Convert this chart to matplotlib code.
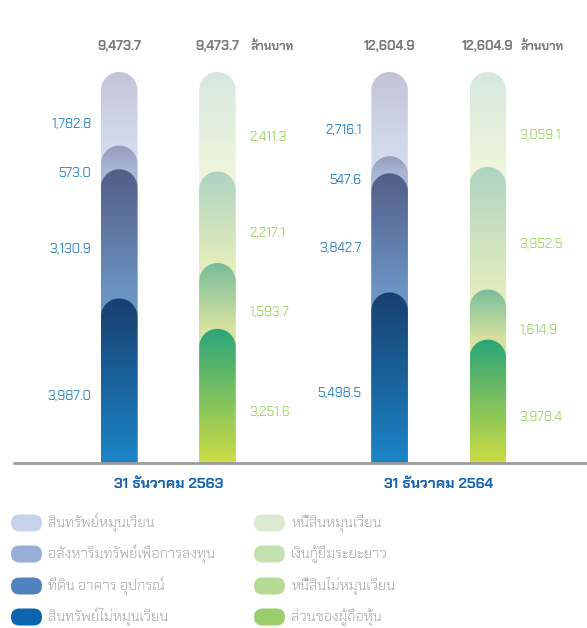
import numpy as np
import matplotlib
matplotlib.use("Agg")
import matplotlib.pyplot as plt
from matplotlib.patches import PathPatch, FancyBboxPatch
from matplotlib.path import Path
from matplotlib.colors import to_rgb

plt.rcParams["font.family"] = ["Chakra Petch", "DejaVu Sans"]

groups = ["31 ธันวาคม 2563", "31 ธันวาคม 2564"]
totals = [9473.7, 12604.9]
unit = "ล้านบาท"

# segments listed bottom -> top
asset_names = ["สินทรัพย์ไม่หมุนเวียน", "ที่ดิน อาคาร อุปกรณ์",
               "อสังหาริมทรัพย์เพื่อการลงทุน", "สินทรัพย์หมุนเวียน"]
assets_2563 = [3987.0, 3130.9, 573.0, 1782.8]
assets_2564 = [5498.5, 3842.7, 547.6, 2716.1]

liab_names = ["ส่วนของผู้ถือหุ้น", "หนี้สินไม่หมุนเวียน",
              "เงินกู้ยืมระยะยาว", "หนี้สินหมุนเวียน"]
liab_2563 = [3251.6, 1593.7, 2217.1, 2411.3]
liab_2564 = [3978.4, 1614.9, 3952.5, 3059.1]

# (top colour, bottom colour) per segment, bottom -> top
asset_grad = [("#183F6F", "#1C85C7"), ("#535E86", "#6C95C6"),
              ("#989BB9", "#A9B7D7"), ("#C4C4D8", "#D2DCEE")]
liab_grad = [("#29A57A", "#CDDC44"), ("#79BC9C", "#D9E39F"),
             ("#ADD4C2", "#E3ECBC"), ("#D5E8DF", "#EFF5DB")]
asset_legend = ["#0C64AE", "#5182C0", "#97AFD7", "#C7D3EA"]
liab_legend = ["#9ACE6C", "#B6DB95", "#C3E1AE", "#DAEBD0"]

BLUE_TXT = "#2F86C5"
GREEN_TXT = "#A4D46C"
GREY_TXT = "#7A7A7A"

W, H = 587, 628
fig = plt.figure(figsize=(W / 100, H / 100), dpi=100)
ax = fig.add_axes([0, 165 / H, 1, 463 / H])
ax.axis("off")

px_x = 270.4          # pixels per x unit
px_y = 3.91           # pixels per percent
xlim = (-168.3 / px_x, (W - 168.3) / px_x)
ylim = (0, 463 / px_y)
ax.set_xlim(*xlim)
ax.set_ylim(*ylim)

bar_off = 49.1 / px_x
bar_w = 36.5 / px_x
ry = (36.5 / 2) / px_y


def pill_bar(ax, x, top, grad_from, c_top, c_bot, zorder):
    t = np.linspace(0, np.pi, 40)
    arc = np.column_stack([x + bar_w / 2 * np.cos(t), top - ry + ry * np.sin(t)])
    verts = np.vstack([[x - bar_w / 2, 0], [x + bar_w / 2, 0], arc, [x - bar_w / 2, 0]])
    codes = [Path.MOVETO] + [Path.LINETO] * (len(verts) - 2) + [Path.CLOSEPOLY]
    patch = PathPatch(Path(verts, codes), facecolor="none", edgecolor="none", zorder=zorder)
    ax.add_patch(patch)

    yy = np.linspace(0, top, 300)
    frac = np.clip((yy - grad_from) / max(top - grad_from, 1e-6), 0, 1)[:, None]
    img = np.array(to_rgb(c_bot)) + (np.array(to_rgb(c_top)) - np.array(to_rgb(c_bot))) * frac
    ax.imshow(img[:, None, :], extent=(x - bar_w / 2, x + bar_w / 2, 0, top),
              origin="lower", aspect="auto", interpolation="bilinear",
              clip_path=patch, zorder=zorder)


def stacked(ax, x, values, grads, color, label_dx, ha):
    pct = np.array(values) / sum(values) * 100
    cum = np.cumsum(pct)
    lows = np.concatenate([[0], cum[:-1]])
    n = len(values)
    for k in range(n - 1, -1, -1):
        pill_bar(ax, x, cum[k], lows[k], grads[k][0], grads[k][1], zorder=3 + (n - k))
    for k in range(n):
        ax.text(x + label_dx, (lows[k] + cum[k]) / 2 - 4, f"{values[k]:,.1f}",
                ha=ha, va="center", color=color, fontsize=9.5)


assets = [assets_2563, assets_2564]
liabs = [liab_2563, liab_2564]
for g in range(len(groups)):
    xa = g - bar_off
    xl = g + bar_off
    stacked(ax, xa, assets[g], asset_grad, BLUE_TXT, -28 / px_x, "right")
    stacked(ax, xl, liabs[g], liab_grad, GREEN_TXT, 32 / px_x, "left")

    ax.text(xa, 106.4, f"{totals[g]:,.1f}", ha="center", va="center",
            color=GREY_TXT, fontsize=9.5, fontweight="bold")
    ax.text(xl, 106.4, f"{totals[g]:,.1f}", ha="center", va="center",
            color=GREY_TXT, fontsize=9.5, fontweight="bold")
    ax.text(xl + 33 / px_x, 106.4, unit, ha="left", va="center",
            color=GREY_TXT, fontsize=8.5, fontweight="bold")
    ax.text(g, -21 / px_y, groups[g], ha="center", va="center",
            color="#1565B0", fontsize=10.5, fontweight="bold", clip_on=False)

ax.plot([xlim[0] + 13 / px_x, xlim[1]], [0, 0], color="#9B9B9B", lw=2,
        zorder=10, clip_on=False, solid_capstyle="butt")
ax.set_xlim(*xlim)
ax.set_ylim(*ylim)

# legend
lax = fig.add_axes([0, 0, 1, 1])
lax.set_xlim(0, W)
lax.set_ylim(H, 0)
lax.axis("off")
rows = [523, 554, 586, 617]
columns = [(11, asset_names[::-1], asset_legend[::-1]),
           (254, liab_names[::-1], liab_legend[::-1])]
for x0, names, cols in columns:
    for y, name, c in zip(rows, names, cols):
        lax.add_patch(FancyBboxPatch((x0, y - 8.5), 31, 17,
                                     boxstyle="round,pad=0,rounding_size=8.5",
                                     facecolor=c, edgecolor="none"))
        lax.text(x0 + 37, y, name, ha="left", va="center", color="#8A8A8A",
                 fontsize=10.5, fontweight="light")

fig.savefig("out.png", dpi=100)
